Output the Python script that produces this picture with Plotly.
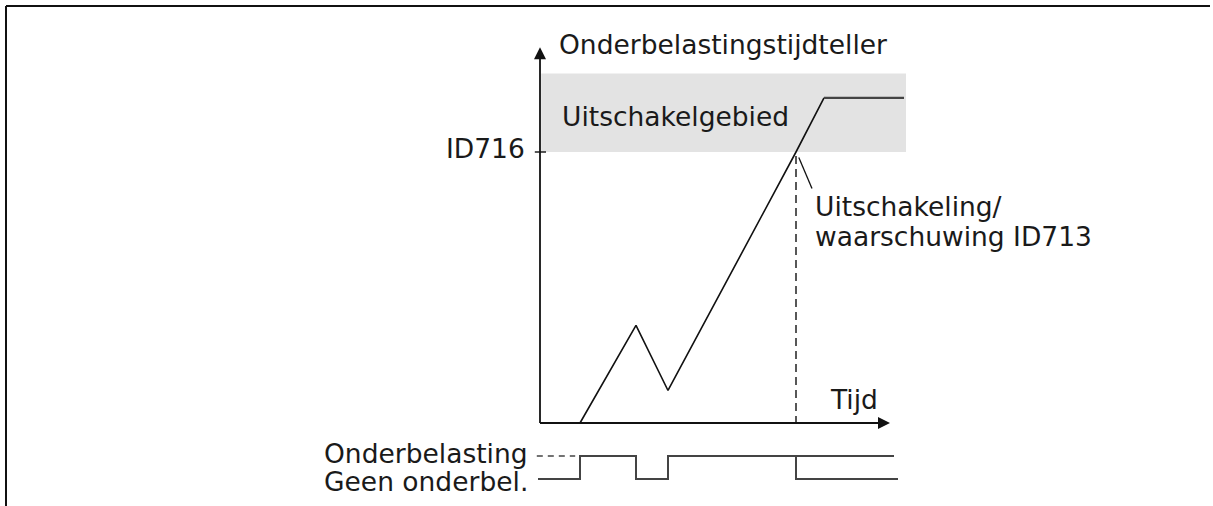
import plotly.graph_objects as go

# --- Datos del diagrama ---
tijd = [1.0, 2.4, 3.2, 6.4, 7.1, 9.1]          # tijdstippen van de tellercurve
teller = [0, 36, 12, 100, 120, 120]            # onderbelastingstijdteller
drempel = 100                                  # ID716
gebied_top = 129
uitschakel_tijd = 6.4
onderbel_tijd = [-0.05, 1.0, 2.4, 3.2, 8.85]   # overgangen onderbelasting
onderbel_status = [0, 1, 0, 1, 1]              # 1 = onderbelasting, 0 = geen
as_x_eind = 8.75
as_y_eind = 138.7

FONT = dict(family="DejaVu Sans", size=26.5, color="#1a1a1a")
ZWART = "#111111"

fig = go.Figure()

# tellercurve: stijgend deel + plateau
fig.add_trace(go.Scatter(x=tijd[:5], y=teller[:5], mode="lines",
                         line=dict(color=ZWART, width=1.6)))
fig.add_trace(go.Scatter(x=tijd[4:], y=teller[4:], mode="lines",
                         line=dict(color="#444444", width=2.2)))

# assen
fig.add_trace(go.Scatter(x=[0, 0], y=[0, as_y_eind - 3], mode="lines",
                         line=dict(color=ZWART, width=1.8)))
fig.add_trace(go.Scatter(x=[0, as_x_eind - 0.1], y=[0, 0], mode="lines",
                         line=dict(color=ZWART, width=1.8)))
fig.add_trace(go.Scatter(x=[0], y=[as_y_eind], mode="markers",
                         marker=dict(symbol="arrow-up", size=12, color=ZWART, line_width=0)))
fig.add_trace(go.Scatter(x=[as_x_eind], y=[0], mode="markers",
                         marker=dict(symbol="arrow-right", size=12, color=ZWART, line_width=0)))
# tick ID716
fig.add_trace(go.Scatter(x=[-0.13, 0.15], y=[drempel, drempel], mode="lines",
                         line=dict(color=ZWART, width=1.4)))

# uitschakelmoment: stippellijn + aanwijslijn
fig.add_trace(go.Scatter(x=[uitschakel_tijd, uitschakel_tijd], y=[drempel - 1.5, -2],
                         mode="lines", line=dict(color=ZWART, width=1.4, dash="8px,5px")))
fig.add_trace(go.Scatter(x=[uitschakel_tijd + 0.07, uitschakel_tijd + 0.4],
                         y=[drempel - 2, drempel - 13.5], mode="lines",
                         line=dict(color=ZWART, width=1.3)))

# onderbelastingssignaal (onderste paneel)
fig.add_trace(go.Scatter(x=onderbel_tijd, y=onderbel_status, mode="lines", yaxis="y2",
                         line=dict(color="#444444", width=2, shape="hv")))
fig.add_trace(go.Scatter(x=[uitschakel_tijd, 8.95], y=[1, 0], mode="lines", yaxis="y2",
                         line=dict(color="#444444", width=2, shape="vh")))
fig.add_trace(go.Scatter(x=[-0.08, 0.88], y=[1, 1], mode="lines", yaxis="y2",
                         line=dict(color="#444444", width=1.6, dash="6px,5px")))

# uitschakelgebied
fig.add_shape(type="rect", xref="x", yref="y", x0=0.03, x1=9.15, y0=drempel, y1=gebied_top,
              fillcolor="#e3e3e3", line_width=0, layer="below")

# kader
fig.add_shape(type="line", xref="paper", yref="paper", x0=6 / 1213, x1=1210 / 1213,
              y0=1 - 6 / 506, y1=1 - 6 / 506, line=dict(color=ZWART, width=2))
fig.add_shape(type="line", xref="paper", yref="paper", x0=6 / 1213, x1=6 / 1213,
              y0=0, y1=1 - 6 / 506, line=dict(color=ZWART, width=2))

# teksten
fig.add_annotation(x=0.42, y=as_y_eind + 1, text="Onderbelastingstijdteller",
                   xanchor="left", yanchor="middle", showarrow=False, font=FONT)
fig.add_annotation(x=0.5, y=113, text="Uitschakelgebied",
                   xanchor="left", yanchor="middle", showarrow=False, font=FONT)
fig.add_annotation(x=-0.32, y=drempel, yshift=4, text="ID716",
                   xanchor="right", yanchor="middle", showarrow=False, font=FONT)
fig.add_annotation(x=6.82, y=80, text="Uitschakeling/",
                   xanchor="left", yanchor="middle", showarrow=False, font=FONT)
fig.add_annotation(x=6.82, y=69, text="waarschuwing ID713",
                   xanchor="left", yanchor="middle", showarrow=False, font=FONT)
fig.add_annotation(x=7.2, y=8.5, text="Tijd",
                   xanchor="left", yanchor="middle", showarrow=False, font=FONT)
fig.add_annotation(x=-0.25, y=1, yref="y2", yshift=3, text="Onderbelasting",
                   xanchor="right", yanchor="middle", showarrow=False, font=FONT)
fig.add_annotation(x=-0.25, y=0, yref="y2", yshift=-2, text="Geen onderbel.",
                   xanchor="right", yanchor="middle", showarrow=False, font=FONT)

# assen zo geschaald dat oorsprong bij (540, 423) px ligt
fig.update_layout(
    width=1213, height=506,
    margin=dict(l=0, r=0, t=0, b=0),
    paper_bgcolor="white", plot_bgcolor="white",
    showlegend=False,
    xaxis=dict(range=[-13.5, 16.825], visible=False, fixedrange=True),
    yaxis=dict(range=[-30.63, 156.09], visible=False, fixedrange=True),
    yaxis2=dict(range=[-1.174, 20.826], overlaying="y", visible=False, fixedrange=True),
)

# standaard body-marge van de pagina weghalen
fig.write_html("out.html", config={"displayModeBar": False},
               post_script="document.body.style.margin='0';")
